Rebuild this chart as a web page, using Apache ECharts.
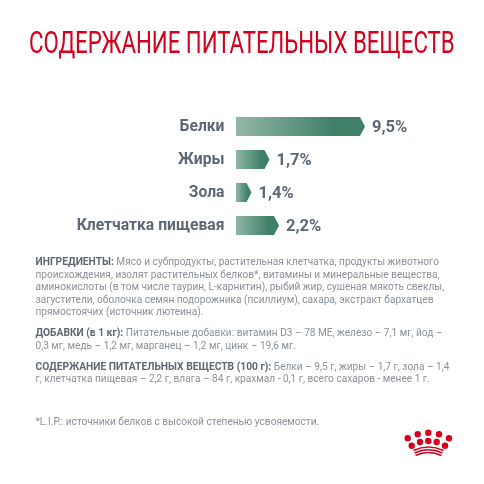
<!DOCTYPE html>
<html><head><meta charset="utf-8">
<style>html,body{margin:0;padding:0;background:#fff}#c{width:484px;height:484px}</style>
<script src="https://cdn.jsdelivr.net/npm/echarts@6/dist/echarts.min.js"></script></head>
<body><div id="c"></div>
<script>
const titleText = 'СОДЕРЖАНИЕ ПИТАТЕЛЬНЫХ ВЕЩЕСТВ';
const categories = ['Белки', 'Жиры', 'Зола', 'Клетчатка пищевая'];
const percentLabels = ['9,5%', '1,7%', '1,4%', '2,2%'];
// Drawn bar lengths: the reference's bars are not proportional to their labels.
const barLengths = [129, 33.5, 15.5, 43];
const paragraphs = [
  [['ИНГРЕДИЕНТЫ:', ' Мясо и субпродукты, растительная клетчатка, продукты животного'], 262],
  [['', 'происхождения, изолят растительных белков*, витамины и минеральные вещества,'], 274.5],
  [['', 'аминокислоты (в том числе таурин, L-карнитин), рыбий жир, сушеная мякоть свеклы,'], 287],
  [['', 'загустители, оболочка семян подорожника (псиллиум), сахара, экстракт бархатцев'], 299.5],
  [['', 'прямостоячих (источник лютеина).'], 312],
  [['ДОБАВКИ (в 1 кг):', ' Питательные добавки: витамин D3 – 78 МЕ, железо – 7,1 мг, йод –'], 333],
  [['', '0,3 мг, медь – 1,2 мг, марганец – 1,2 мг, цинк – 19,6 мг.'], 346],
  [['СОДЕРЖАНИЕ ПИТАТЕЛЬНЫХ ВЕЩЕСТВ (100 г):', ' Белки – 9,5 г, жиры – 1,7 г, зола – 1,4'], 366.5],
  [['', 'г, клетчатка пищевая – 2,2 г, влага – 84 г, крахмал - 0,1 г, всего сахаров - менее 1 г.'], 379],
  [['', '*L.I.P.: источники белков с высокой степенью усвояемости.'], 421.5]
];
const crownDots = [[407.7,438.3],[417.7,434.3],[428.3,432.7],[439,434.3],[449,438.3],[411.7,445.7],[420,442],[428.3,441],[436.7,442],[445,445.7]];
const crownBands = [[413.5,450.5,428.3,443.5,443.5,450.5],[414.5,453,428.3,446.5,442.5,453],[415.5,455.5,428.3,449.5,441.5,455.5]];

const bodyFont = 'Roboto';
const graphics = [{
  type: 'text', x: 29, y: 28.5, scaleX: 0.694, silent: true,
  style: { text: titleText, fontFamily: 'Roboto', fontWeight: 400, fontSize: 32, fill: '#d5001c' }
}];
paragraphs.forEach(function (p) {
  graphics.push({
    type: 'text', x: 35.5, y: p[1] - 4.2, silent: true,
    style: {
      text: (p[0][0] ? '{b|' + p[0][0] + '}' : '') + '{n|' + p[0][1] + '}',
      rich: {
        b: { fontFamily: bodyFont, fontWeight: 700, fontSize: 10.25, fill: '#5f6872' },
        n: { fontFamily: bodyFont, fontSize: 10.12, fill: '#8b9299' }
      }
    }
  });
});
crownDots.forEach(function (d) {
  graphics.push({ type: 'circle', shape: { cx: d[0], cy: d[1], r: 3.2 }, style: { fill: '#d5001c' }, silent: true });
});
crownBands.forEach(function (b) {
  graphics.push({ type: 'bezierCurve', silent: true,
    shape: { x1: b[0], y1: b[1], cpx1: b[2], cpy1: b[3], x2: b[4], y2: b[5] },
    style: { stroke: '#d5001c', lineWidth: 1.6, fill: null } });
});

const chart = echarts.init(document.getElementById('c'), null, { renderer: 'canvas' });
chart.setOption({
  animation: false,
  backgroundColor: '#ffffff',
  grid: { left: 236, top: 110, width: 200, height: 132 },
  xAxis: { type: 'value', min: 0, max: 200, show: false },
  yAxis: {
    type: 'category', data: categories, inverse: true,
    axisLine: { show: false }, axisTick: { show: false }, axisLabel: { show: false }
  },
  series: [{
    type: 'custom',
    data: barLengths.map(function (v, i) { return [v, i]; }),
    encode: { x: 0, y: 1 },
    clip: false,
    renderItem: function (params, api) {
      const end = api.coord([api.value(0), api.value(1)]);
      const start = api.coord([0, api.value(1)]);
      const h = 19, tip = 5;
      const t = end[1] - h / 2, b = end[1] + h / 2;
      return {
        type: 'group',
        children: [{
          type: 'polygon',
          shape: { points: [[start[0], t], [end[0] - tip, t], [end[0], end[1]], [end[0] - tip, b], [start[0], b]] },
          style: { fill: new echarts.graphic.LinearGradient(0, 0, 1, 0, [
            { offset: 0, color: '#93b7a8' }, { offset: 0.75, color: '#3f8069' }, { offset: 1, color: '#3f8069' }
          ]) }
        }, {
          type: 'text',
          style: {
            x: start[0] - 11.5, y: end[1] + 1, text: categories[params.dataIndex],
            verticalAlign: 'middle', align: 'right',
            fontFamily: 'Roboto', fontWeight: 700, fontSize: 15.7, fill: '#5f6872'
          }
        }, {
          type: 'text',
          style: {
            x: end[0] + 7, y: end[1] + 1.5, text: percentLabels[params.dataIndex],
            verticalAlign: 'middle', align: 'left',
            fontFamily: 'Roboto', fontWeight: 700, fontSize: 16.5, fill: '#5f6872'
          }
        }]
      };
    }
  }],
  graphic: graphics
});
</script></body></html>
